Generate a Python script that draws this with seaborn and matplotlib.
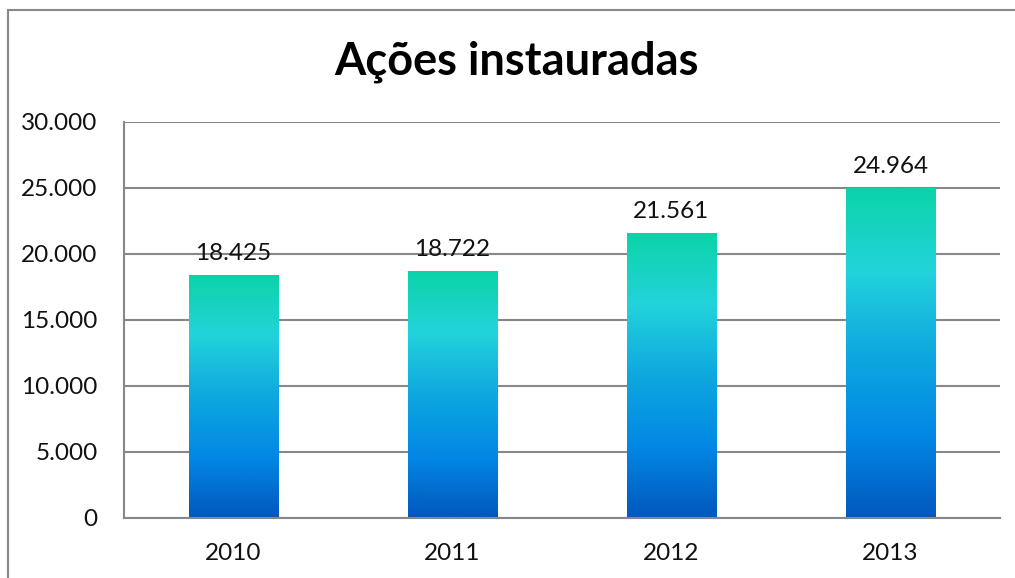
import numpy as np
import pandas as pd
import matplotlib
matplotlib.use("Agg")
import matplotlib.pyplot as plt
import seaborn as sns
from matplotlib.colors import LinearSegmentedColormap
from matplotlib.patches import Rectangle
from matplotlib.ticker import FuncFormatter

years = ["2010", "2011", "2012", "2013"]
values = [18425, 18722, 21561, 24964]
title = "Ações instauradas"

sns.set_theme(style="white")
plt.rcParams['font.family'] = ['Lato', 'DejaVu Sans']

df = pd.DataFrame({"ano": years, "acoes": values})

fig = plt.figure(figsize=(10.15, 5.78), dpi=100)
ax = fig.add_axes([124/1015, 1-518/578, (1000-124)/1015, (518-122)/578])

sns.barplot(data=df, x="ano", y="acoes", ax=ax, width=0.41, color="#0a9fe0", saturation=1, zorder=3)

cmap = LinearSegmentedColormap.from_list("grad", [
    (0.0, "#0257BD"), (0.25, "#0288E5"), (0.5, "#0EA8DF"), (0.75, "#22D3DB"), (1.0, "#0BD4A8")])
grad = np.linspace(0, 1, 256).reshape(-1, 1)
ax.set_ylim(0, 30000)
ax.set_xlim(-0.5, 3.5)
for p in ax.patches:
    x0, y0 = p.get_x(), p.get_y()
    w, h = p.get_width(), p.get_height()
    p.set_facecolor("none")
    p.set_edgecolor("none")
    im = ax.imshow(grad, cmap=cmap, aspect="auto", origin="lower",
                   extent=(x0, x0 + w, y0, y0 + h), zorder=3)
    im.set_clip_path(p)
ax.set_ylim(0, 30000)
ax.set_xlim(-0.5, 3.5)

for i, v in enumerate(values):
    ax.annotate(f"{v:,}".replace(",", "."), (i, v), xytext=(0, 8), textcoords="offset points",
                ha="center", va="bottom", fontsize=17.5, color="#111111")

ax.set_yticks(np.arange(0, 30001, 5000))
ax.yaxis.set_major_formatter(FuncFormatter(lambda v, _: f"{int(v):,}".replace(",", ".")))
ax.grid(axis="y", color="#888888", linewidth=1.5, zorder=0)
ax.set_axisbelow(True)
for s in ["top", "right"]:
    ax.spines[s].set_visible(False)
for s in ["left", "bottom"]:
    ax.spines[s].set_color("#888888")
    ax.spines[s].set_linewidth(1.5)
    ax.spines[s].set_zorder(4)
ax.tick_params(axis="both", length=0, labelsize=17.5, labelcolor="#111111")
ax.tick_params(axis="y", pad=19)
ax.tick_params(axis="x", pad=18)
ax.set_xlabel("")
ax.set_ylabel("")

fig.text(516/1015, 1-62/578, title, ha="center", va="center", fontsize=32.5, fontweight="bold", color="#000000")

border = Rectangle((8/1015, -0.1), 1.2, 1-10/578+0.1, transform=fig.transFigure,
                   fill=False, edgecolor="#888888", linewidth=1.5)
fig.patches.append(border)

fig.savefig("out.png", dpi=100)
